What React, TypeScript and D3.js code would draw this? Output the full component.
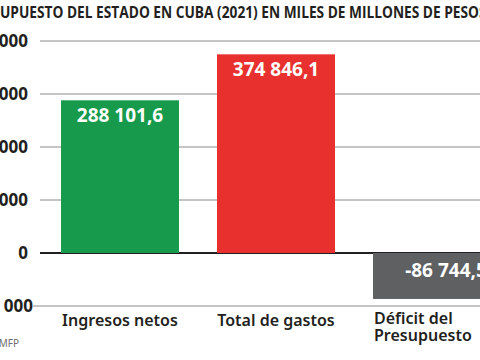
import React, { useEffect, useRef } from 'react';
import * as d3 from 'd3';

const categories = ['Ingresos netos', 'Total de gastos', 'Déficit del|Presupuesto'];
const values = [288101.6, 374846.1, -86744.5];
const valueLabels = ['288 101,6', '374 846,1', '-86 744,5'];
const barColors = ['#179a4b', '#e8302e', '#5e6062'];
const yTicks = [-100000, 0, 100000, 200000, 300000, 400000];
const titleText = 'PRESUPUESTO DEL ESTADO EN CUBA (2021) EN MILES DE MILLONES DE PESOS';
const sourceText = 'Fuente: MFP';

const fmt = (v: number) => {
  const s = Math.abs(v).toString().replace(/\B(?=(\d{3})+(?!\d))/g, ' ');
  return (v < 0 ? '-' : '') + s;
};

export default function App() {
  const titleRef = useRef<SVGTextElement>(null);

  const width = 480;
  const height = 360;

  const y = d3.scaleLinear().domain([-100000, 400000]).range([306, 41]);
  const x = d3.scaleBand().domain(categories).range([42, 510]).paddingInner(0.2436).paddingOuter(0.1218);

  useEffect(() => {
    // squeeze the title so that only "UPUESTO ... PESO" is visible, like the reference crop
    const node = titleRef.current;
    if (!node) return;
    const svg = d3.select(node.ownerSVGElement);
    const measure = (s: string) => {
      const probe = svg.append('text')
        .attr('font-family', node.getAttribute('font-family'))
        .attr('font-weight', 700)
        .attr('font-size', node.getAttribute('font-size'))
        .text(s);
      const w = (probe.node() as SVGTextElement).getComputedTextLength();
      probe.remove();
      return w;
    };
    const full = measure(titleText);
    const pres = measure('PRES');
    const s = measure('S');
    const k = 479 / (full - pres - s);
    d3.select(node)
      .attr('x', -pres * k)
      .attr('textLength', full * k)
      .attr('lengthAdjust', 'spacingAndGlyphs');
  }, []);

  return (
    <svg width={width} height={height} style={{ position: 'absolute', left: 0, top: 0, background: '#fff' }}>
      <text
        ref={titleRef}
        x={-40}
        y={18}
        fontFamily="'Open Sans', sans-serif"
        fontWeight={700}
        fontSize={16}
        fill="#231f20"
      >
        {titleText}
      </text>

      {/* grid + y labels */}
      {yTicks.map(t => (
        <g key={t}>
          <line
            x1={t === -100000 ? 33 : 40}
            x2={width}
            y1={y(t)}
            y2={y(t)}
            stroke={t === 0 ? '#231f20' : '#8a8a8a'}
            strokeWidth={t === 0 ? 2 : 1}
          />
          <text
            x={t === -100000 ? 33 : 28}
            y={y(t) + 6}
            textAnchor="end"
            fontFamily="'Noto Sans', sans-serif"
            fontWeight={700}
            fontSize={17}
            fill="#231f20"
          >
            {fmt(t)}
          </text>
        </g>
      ))}

      {/* bars */}
      {categories.map((c, i) => {
        const v = values[i];
        const top = y(Math.max(0, v));
        const h = Math.abs(y(v) - y(0));
        const bx = x(c) as number;
        const bw = x.bandwidth();
        const labelY = v >= 0 ? top + 22 : y(0) + 24;
        return (
          <g key={c}>
            <rect x={bx} y={top} width={bw} height={h} fill={barColors[i]} />
            <text
              x={bx + bw / 2 + (v < 0 ? 14 : 0)}
              y={labelY}
              textAnchor="middle"
              fontFamily="'Noto Sans', sans-serif"
              fontWeight={700}
              fontSize={19}
              fill="#ffffff"
            >
              {valueLabels[i]}
            </text>
          </g>
        );
      })}

      {/* category labels */}
      {categories.map((c, i) => {
        const lines = c.split('|');
        const bx = x(c) as number;
        const bw = x.bandwidth();
        const multi = lines.length > 1;
        return (
          <text
            key={c}
            x={multi ? bx + 1 : bx + bw / 2}
            y={multi ? 324 : 326}
            textAnchor={multi ? 'start' : 'middle'}
            fontFamily="'Noto Sans', sans-serif"
            fontWeight={600}
            fontSize={16}
            fill="#231f20"
          >
            {lines.map((l, j) => (
              <tspan key={l} x={multi ? bx + 1 : bx + bw / 2} dy={j === 0 ? 0 : 17}>
                {l}
              </tspan>
            ))}
          </text>
        );
      })}

      <text
        x={19}
        y={347}
        textAnchor="end"
        fontFamily="'Noto Sans', sans-serif"
        fontSize={10}
        fill="#6d6e70"
      >
        {sourceText}
      </text>
    </svg>
  );
}
